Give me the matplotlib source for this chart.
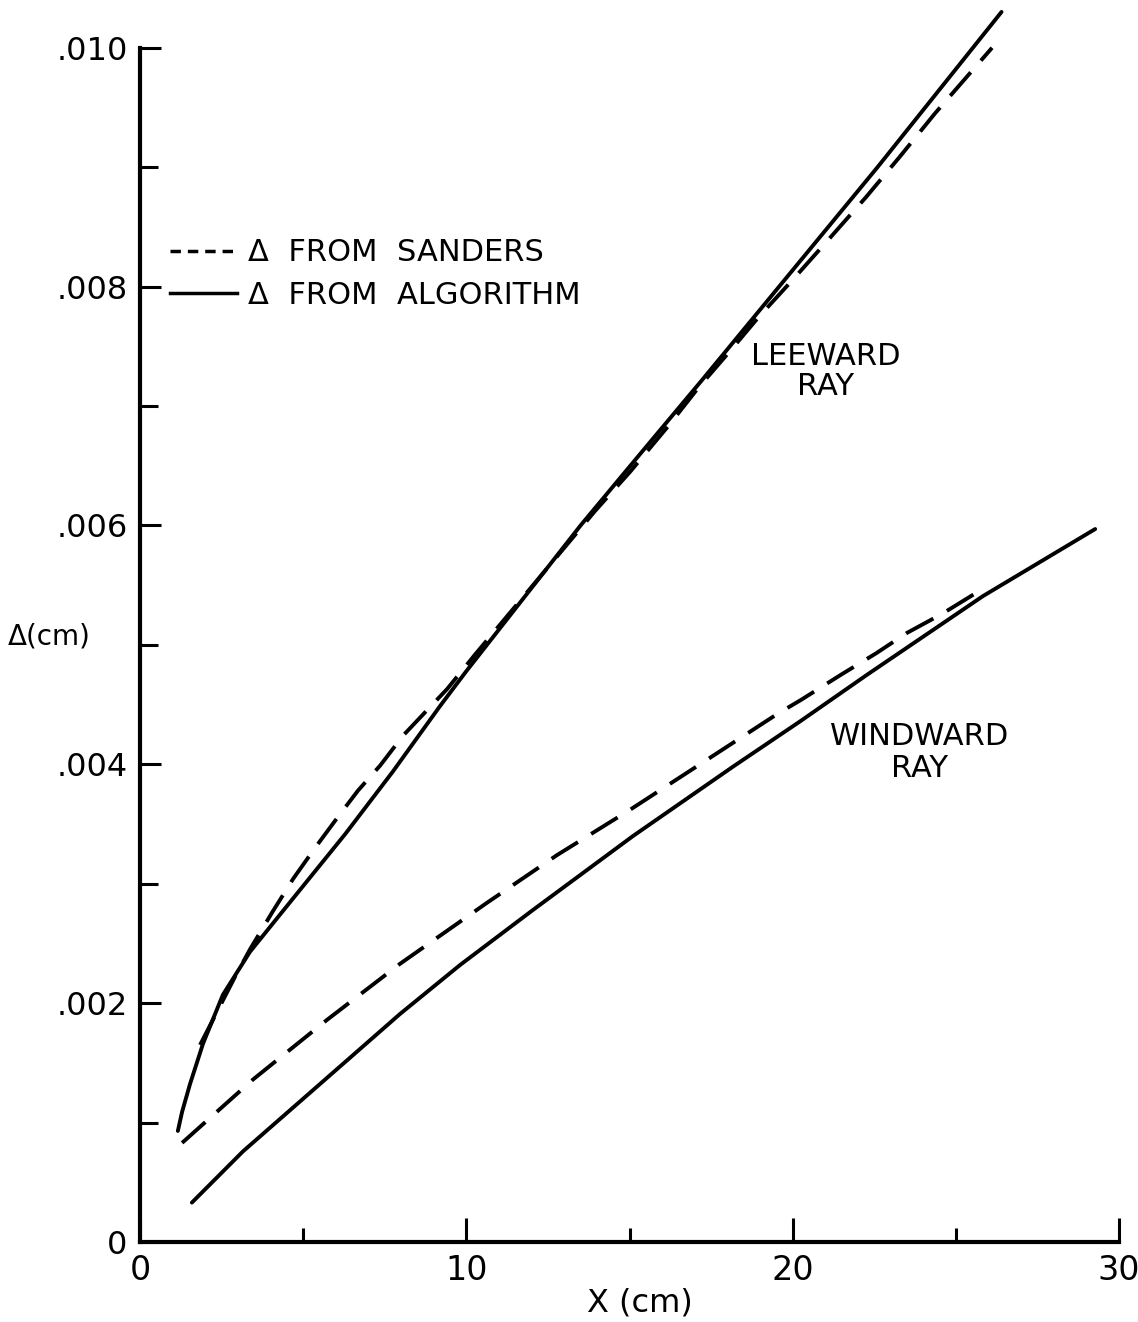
import matplotlib.pyplot as plt
from matplotlib.lines import Line2D

# leeward ray, delta from algorithm (solid)
lee_x_alg = [1.16, 1.29, 1.53, 1.93, 2.54, 3.37, 4.7, 6.3, 7.75, 9.2, 10.0, 13.5, 15.3, 17.2, 18.8, 22.6, 26.4]
lee_y_alg = [0.00093, 0.00109, 0.00132, 0.00166, 0.00207, 0.00243, 0.00288, 0.00342, 0.00394, 0.00449,
             0.00478, 0.0060, 0.00659, 0.00721, 0.00774, 0.0090, 0.0103]

# leeward ray, delta from Sanders (dashed)
lee_x_san = [1.84, 2.91, 3.37, 4.05, 4.69, 5.39, 6.04, 6.68, 7.36, 8.06, 8.89, 9.41, 10.27,
             13.94, 15.02, 16.18, 17.10, 18.11, 18.94, 20.01, 21.15, 22.25, 23.29, 24.36, 26.11]
lee_y_san = [0.00165, 0.00222, 0.00245, 0.00276, 0.00304, 0.00331, 0.00355, 0.00378, 0.00399,
             0.00424, 0.00448, 0.00463, 0.00492, 0.00612, 0.00645, 0.00683, 0.00715, 0.00747,
             0.00774, 0.00806, 0.00841, 0.00875, 0.00909, 0.00945, 0.0100]

# windward ray, delta from algorithm (solid)
ww_x_alg = [1.59, 3.16, 6.34, 7.97, 9.81, 12.04, 15.11, 18.17, 20.23, 22.28, 25.84, 29.27]
ww_y_alg = [0.00033, 0.00076, 0.00152, 0.00191, 0.00232, 0.00278, 0.0034, 0.00398, 0.00436,
            0.00475, 0.00541, 0.00597]

# windward ray, delta from Sanders (dashed)
ww_x_san = [1.29, 3.46, 5.73, 7.97, 10.63, 12.78, 15.02, 17.16, 19.52, 20.26, 21.48, 22.56,
            23.5, 24.58, 25.65]
ww_y_san = [0.00083, 0.00136, 0.00186, 0.00233, 0.00284, 0.00324, 0.00362, 0.0040, 0.00442,
            0.00454, 0.00475, 0.00493, 0.0051, 0.00526, 0.00544]

y_ticks = [0, 0.002, 0.004, 0.006, 0.008, 0.010]
y_labels = ["0", ".002", ".004", ".006", ".008", ".010"]
x_ticks = [0, 10, 20, 30]
x_labels = ["0", "10", "20", "30"]

W, H = 1138, 1322
fig = plt.figure(figsize=(W/100, H/100), dpi=100)
ax = fig.add_axes([140/W, 80/H, 979/W, 1242/H])

lw = 2.8
dash = (0, (8, 4))
ax.plot(lee_x_alg, lee_y_alg, color="black", lw=lw, solid_capstyle="round",
        solid_joinstyle="round", clip_on=False)
ax.plot(lee_x_san, lee_y_san, color="black", lw=lw, ls=dash, dash_capstyle="butt", clip_on=False)
ax.plot(ww_x_alg, ww_y_alg, color="black", lw=lw, solid_capstyle="round",
        solid_joinstyle="round", clip_on=False)
ax.plot(ww_x_san, ww_y_san, color="black", lw=lw, ls=dash, dash_capstyle="butt", clip_on=False)

ax.set_xlim(0, 30)
ax.set_ylim(0, 0.0104)

for s in ["top", "right"]:
    ax.spines[s].set_visible(False)
for s in ["left", "bottom"]:
    ax.spines[s].set_linewidth(3)
ax.spines["left"].set_bounds(0, 0.010)
ax.spines["bottom"].set_bounds(0, 30)

ax.set_yticks(y_ticks)
ax.set_yticklabels(y_labels)
ax.set_yticks([0.001, 0.003, 0.005, 0.007, 0.009], minor=True)
ax.set_xticks(x_ticks)
ax.set_xticklabels(x_labels)
ax.set_xticks([5, 15, 25], minor=True)

ax.tick_params(axis="y", which="major", direction="in", length=15, width=2.2, labelsize=23, pad=9)
ax.tick_params(axis="y", which="minor", direction="in", length=13, width=2.2)
ax.tick_params(axis="x", which="major", direction="in", length=17, width=2.2, labelsize=24, pad=9)
ax.tick_params(axis="x", which="minor", direction="in", length=10, width=2.2)

fig.text(8/W, 1 - 636/H, "Δ(cm)", fontsize=20, ha="left", va="center")
fig.text(640/W, 1 - 1303/H, "X (cm)", fontsize=23, ha="center", va="center")

ax.text(21.0, 0.00729, "LEEWARD\nRAY", fontsize=22, ha="center", va="center",
        multialignment="center", linespacing=1.05)
ax.text(23.9, 0.00410, "WINDWARD\nRAY", fontsize=22, ha="center", va="center",
        multialignment="center", linespacing=1.15)

handles = [Line2D([], [], color="black", lw=2.5, ls=(0, (3, 2))),
           Line2D([], [], color="black", lw=2.5)]
ax.legend(handles, ["Δ  FROM  SANDERS", "Δ  FROM  ALGORITHM"], loc="upper left",
          bbox_to_anchor=(0.018, 0.818), frameon=False, fontsize=22, handlelength=2.2,
          handletextpad=0.35, labelspacing=0.45, borderaxespad=0)

fig.savefig("out.png", dpi=100)
